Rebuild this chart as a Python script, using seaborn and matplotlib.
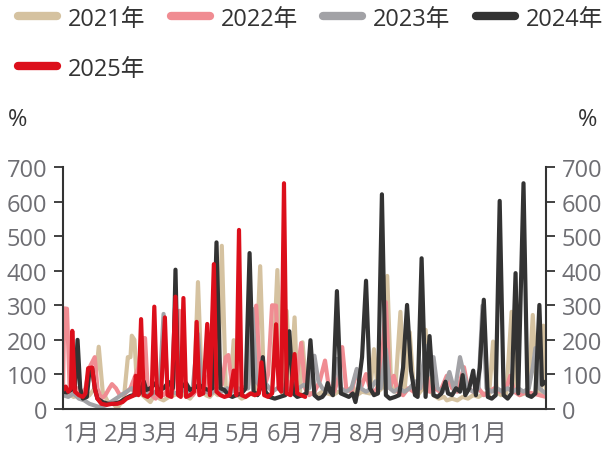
import numpy as np
import pandas as pd
import seaborn as sns
import matplotlib
matplotlib.use("Agg")
import matplotlib.pyplot as plt
from matplotlib.lines import Line2D

# ---- data: day of year -> value (%) ----
years = ["2021年", "2022年", "2023年", "2024年", "2025年"]

day_2021 = [0, 4, 8, 12, 16, 20, 24, 27, 30, 34, 38, 41, 46, 49, 51, 52, 54, 56, 60, 63, 66, 70, 73, 76,
            80, 84, 88, 92, 96, 99, 102, 105, 108, 111, 114, 117, 120, 123, 126, 129, 132, 135, 138, 141,
            145, 149, 152, 155, 158, 162, 165, 167, 169, 172, 175, 177, 179, 181, 184, 188, 192, 196, 200,
            204, 208, 212, 216, 219, 222, 226, 232, 235, 238, 241, 245, 248, 251, 255, 258, 262, 265, 268,
            272, 274, 277, 280, 284, 288, 290, 294, 298, 302, 306, 310, 314, 318, 322, 325, 328, 331, 335,
            339, 342, 345, 349, 352, 355, 358, 361, 363, 365]
val_2021 = [40, 45, 35, 40, 30, 40, 60, 180, 50, 20, 15, 2, 30, 150, 150, 212, 200, 60, 40, 30, 20, 45, 30, 25,
            35, 40, 50, 40, 30, 45, 367, 60, 40, 35, 50, 40, 472, 60, 40, 199, 40, 30, 35, 45,
            40, 413, 50, 40, 45, 402, 50, 40, 284, 60, 265, 60, 40, 193, 50, 45, 40, 50, 45,
            40, 50, 45, 55, 67, 40, 50, 45, 173, 50, 60, 385, 60, 50, 281, 50, 222, 60, 40,
            60, 229, 60, 40, 30, 35, 25, 30, 25, 35, 30, 40, 35, 45, 40, 195, 50, 40, 45,
            281, 50, 40, 45, 60, 272, 60, 40, 241, 50]

day_2022 = [0, 1, 3, 5, 8, 11, 14, 17, 20, 24, 26, 29, 32, 35, 37, 40, 43, 47, 51, 55, 57, 60, 62, 64, 67,
            70, 73, 76, 80, 83, 88, 90, 94, 98, 102, 106, 110, 114, 117, 120, 123, 125, 128, 132, 136,
            140, 146, 149, 152, 155, 158, 161, 163, 166, 170, 173, 177, 180, 183, 186, 190, 194, 198,
            201, 205, 208, 211, 214, 218, 222, 225, 229, 232, 236, 240, 244, 247, 250, 253, 257, 261,
            265, 270, 274, 277, 281, 285, 290, 294, 298, 303, 306, 310, 314, 318, 322, 326, 330, 335,
            338, 341, 345, 350, 355, 360, 365]
val_2022 = [60, 291, 290, 60, 50, 60, 40, 60, 120, 150, 60, 30, 40, 60, 72, 60, 40, 45, 60, 100, 120, 205, 205, 60, 40,
            30, 45, 40, 60, 50, 284, 60, 50, 40, 60, 50, 100, 318, 80, 70, 150, 156, 60, 40, 60,
            70, 299, 90, 60, 100, 300, 299, 100, 60, 80, 50, 100, 191, 60, 40, 50, 80, 140,
            60, 50, 90, 179, 60, 50, 111, 60, 101, 60, 50, 80, 309, 60, 96, 50, 40, 60,
            50, 60, 125, 50, 60, 50, 96, 60, 50, 121, 60, 50, 60, 40, 50, 60, 50, 60,
            96, 50, 40, 50, 45, 40, 35]

day_2023 = [0, 4, 8, 12, 16, 20, 24, 28, 32, 36, 40, 44, 48, 52, 55, 58, 62, 66, 70, 73, 76, 79, 82, 86, 90,
            94, 98, 102, 105, 108, 112, 116, 120, 124, 128, 132, 136, 140, 143, 146, 150, 154, 158, 162,
            166, 170, 174, 178, 182, 186, 190, 193, 196, 200, 204, 207, 210, 214, 218, 222, 225, 229,
            233, 236, 240, 244, 247, 250, 254, 258, 262, 266, 270, 274, 277, 280, 283, 287, 292, 296,
            300, 303, 306, 310, 314, 317, 320, 324, 328, 332, 336, 340, 344, 348, 352, 355, 357, 360,
            363, 365]
val_2023 = [40, 35, 45, 30, 25, 15, 10, 5, 10, 20, 30, 40, 50, 60, 40, 50, 45, 40, 50, 60, 275, 60, 50, 45, 55,
            50, 60, 217, 70, 50, 45, 60, 50, 60, 50, 60, 55, 60, 290, 80, 60, 70, 50, 60,
            55, 60, 50, 60, 70, 60, 154, 80, 60, 50, 60, 145, 60, 50, 60, 116, 60, 50,
            60, 80, 60, 173, 60, 50, 60, 50, 60, 80, 60, 183, 100, 150, 60, 50, 107, 50,
            150, 100, 60, 50, 60, 299, 60, 50, 60, 50, 60, 50, 60, 50, 60, 120, 176, 60,
            50, 45]

day_2024 = [0, 3, 6, 9, 11, 13, 15, 18, 20, 22, 24, 26, 30, 34, 38, 43, 47, 51, 55, 58, 61, 63, 66, 70, 72,
            76, 80, 83, 85, 87, 90, 93, 96, 99, 103, 106, 110, 113, 116, 119, 122, 125, 128, 131, 135,
            138, 141, 144, 147, 149, 151, 153, 156, 160, 164, 168, 171, 174, 177, 181, 184, 187, 190,
            193, 196, 198, 200, 202, 204, 207, 210, 213, 216, 219, 221, 223, 226, 229, 232, 235, 238,
            241, 244, 247, 251, 254, 257, 260, 263, 266, 268, 271, 274, 277, 280, 283, 286, 289, 291,
            294, 297, 300, 302, 304, 307, 310, 312, 315, 318, 321, 324, 327, 330, 333, 336, 339, 342,
            344, 348, 351, 354, 357, 360, 362, 365]
val_2024 = [50, 48, 55, 60, 200, 60, 30, 35, 110, 118, 60, 30, 20, 15, 15, 20, 30, 38, 42, 45, 80, 55, 60, 75, 55,
            60, 78, 60, 403, 60, 65, 75, 55, 60, 70, 60, 55, 60, 482, 60, 55, 40, 35, 40, 45,
            60, 451, 50, 40, 60, 150, 50, 35, 30, 35, 40, 225, 45, 35, 40, 45, 199, 40,
            30, 35, 45, 75, 50, 40, 341, 45, 40, 35, 45, 20, 60, 150, 371, 60, 40, 45,
            621, 40, 30, 35, 40, 120, 301, 110, 40, 35, 436, 35, 211, 40, 35, 45, 79, 45,
            40, 60, 50, 98, 40, 60, 111, 40, 120, 316, 35, 30, 40, 602, 40, 30, 45, 393,
            45, 653, 40, 35, 45, 301, 70, 80]

day_2025 = [0, 2, 4, 6, 7, 9, 12, 15, 17, 19, 22, 24, 26, 29, 33, 37, 41, 45, 48, 51, 54, 55, 57, 59, 61,
            64, 67, 69, 71, 74, 77, 79, 82, 85, 87, 89, 91, 93, 96, 99, 101, 103, 106, 109, 111,
            114, 116, 119, 122, 126, 129, 131, 133, 135, 138, 142, 145, 148, 150, 152, 155, 158, 161,
            163, 165, 167, 169, 172, 175, 177, 180, 183]
val_2025 = [55, 65, 50, 60, 226, 50, 40, 35, 45, 118, 120, 60, 30, 15, 12, 15, 15, 20, 30, 35, 40, 96, 40, 260, 40,
            35, 45, 296, 45, 35, 265, 40, 35, 325, 40, 35, 321, 35, 40, 50, 252, 40, 45, 246, 40,
            419, 50, 40, 35, 40, 111, 40, 518, 40, 35, 45, 40, 45, 135, 40, 35, 45, 245,
            60, 50, 653, 45, 40, 159, 45, 40, 35]

month_labels = ["1月", "2月", "3月", "4月", "5月", "6月", "7月", "8月", "9月", "10月", "11月", ""]
month_ticks = [14, 45, 74, 106, 136, 168, 199, 230, 262, 285, 317, 348]

colors = ["#D5C2A0", "#F08C92", "#A2A2A6", "#333333", "#DC0F1B"]

df = pd.concat([
    pd.DataFrame({"day": d, "value": v, "year": y})
    for d, v, y in zip([day_2021, day_2022, day_2023, day_2024, day_2025],
                       [val_2021, val_2022, val_2023, val_2024, val_2025], years)
], ignore_index=True)

sns.set_theme(style="white")
plt.rcParams["font.family"] = ["Open Sans", "Noto Sans CJK SC", "DejaVu Sans"]

fig = plt.figure(figsize=(6.03, 4.52), dpi=100)
ax = fig.add_axes([63 / 603, 1 - 410 / 452, (546 - 63) / 603, (410 - 168) / 452])

sns.lineplot(data=df, x="day", y="value", hue="year", hue_order=years,
             palette=colors, estimator=None, sort=False, linewidth=3.0,
             legend=False, ax=ax)

ax.set_xlim(0, 365)
ax.set_ylim(0, 700)
ax.set_xlabel("")
ax.set_ylabel("")
ax.set_xticks(month_ticks)
ax.set_xticklabels(month_labels)
ax.set_yticks(range(0, 701, 100))

axis_color = "#333333"
label_color = "#6E6E73"
for side in ["top", "right"]:
    ax.spines[side].set_visible(False)
for side in ["left", "bottom"]:
    ax.spines[side].set_color(axis_color)
    ax.spines[side].set_linewidth(1.5)

ax.tick_params(axis="both", direction="out", length=6.5, width=1.3,
               color=axis_color, labelcolor=label_color, labelsize=17)
ax.tick_params(axis="y", pad=5)
ax.tick_params(axis="x", pad=3)

ax2 = ax.twinx()
ax2.set_ylim(0, 700)
ax2.set_yticks(range(0, 701, 100))
for side in ["top", "left", "bottom"]:
    ax2.spines[side].set_visible(False)
ax2.spines["right"].set_color(axis_color)
ax2.spines["right"].set_linewidth(1.5)
ax2.tick_params(axis="y", direction="out", length=6.5, width=1.3,
                color=axis_color, labelcolor=label_color, labelsize=17, pad=5)

fig.text(8 / 603, 1 - 120 / 452, "%", fontsize=17, color="#333333", va="center", ha="left")
fig.text(597 / 603, 1 - 120 / 452, "%", fontsize=17, color="#333333", va="center", ha="right")

# legend laid out row-wise: 4 entries on the first row, 2025 on the second
handles = [Line2D([0], [0], color=c, lw=6, solid_capstyle="round") for c in colors]
order = [0, 4, 1, 2, 3]
leg = fig.legend([handles[i] for i in order], [years[i] for i in order],
                 ncol=4, loc="upper left", bbox_to_anchor=(0.015, 1.004),
                 frameon=False, fontsize=17, handlelength=1.65,
                 handletextpad=0.45, columnspacing=1.08, labelspacing=1.1,
                 borderaxespad=0)
for t in leg.get_texts():
    t.set_color("#333333")

fig.savefig("out.png", dpi=100)
